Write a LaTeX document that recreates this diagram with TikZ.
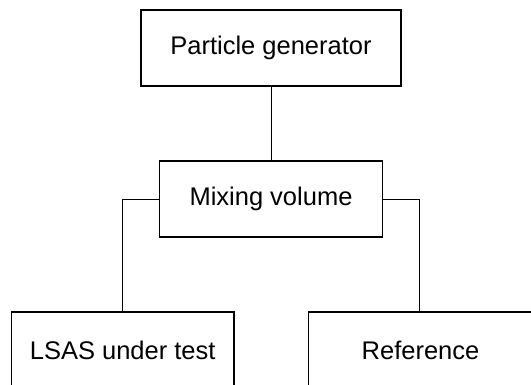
\documentclass[tikz,border=0pt]{standalone}
\usepackage{fontspec}
\setmainfont{Liberation Sans}
\begin{document}
\begin{tikzpicture}[x=1pt,y=-1pt,
  blk/.style={draw=black, line width=1.6pt, fill=white, inner sep=0pt,
    minimum height=76pt, font=\fontsize{25.5}{30}\selectfont},
  conn/.style={draw=black, line width=0.9pt}]
\useasboundingbox (0,0) rectangle (531,385);
\clip (0,0) rectangle (531,385);
\node[blk, minimum width=260pt] (pg) at (271,48) {Particle generator};
\node[blk, minimum width=223pt] (mix) at (271,199) {Mixing volume};
\node[blk, minimum width=222.5pt] (lsas) at (122.7,350) {LSAS under test};
\node[blk, minimum width=224pt] (ref) at (420.5,350) {Reference};
\draw[conn] (pg.south) -- (mix.north);
\draw[conn] (mix.west) -| (lsas.north);
\draw[conn] (mix.east) -| ([xshift=-0.8pt]ref.north);
\end{tikzpicture}
\end{document}
